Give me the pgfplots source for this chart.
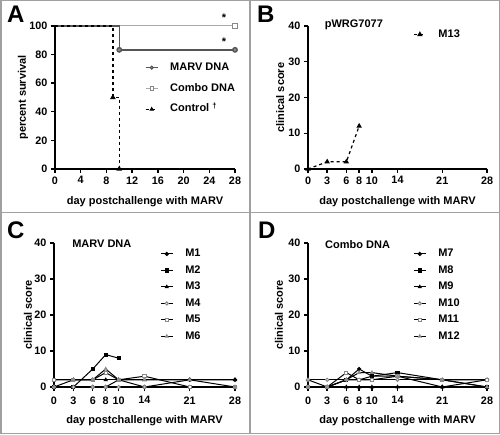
\documentclass[border=0pt]{standalone}
\usepackage{pgfplots}
\pgfplotsset{compat=1.18}
\usepackage{fontspec}
\setmainfont{Liberation Sans}
\newcommand{\lf}{\fontsize{11}{13}\selectfont\bfseries}
\newcommand{\tf}{\fontsize{10.8}{12}\selectfont\bfseries}
\definecolor{dg}{HTML}{555555}
\definecolor{lg}{HTML}{AAAAAA}
\definecolor{mg}{HTML}{888888}
\definecolor{fr}{HTML}{A0A0A0}
\pgfplotsset{
  prism/.style={
    scale only axis, anchor=south west,
    axis x line=bottom, axis y line=left,
    axis line style={-, line width=1.4pt, black},
    tick align=outside, major tick length=4pt,
    tick style={line width=1.4pt, black},
    every tick label/.append style={font=\tf},
    /pgf/number format/assume math mode=true,
    label style={font=\lf},
    xmin=0, xmax=28, ymin=0,
    clip=false,
    legend cell align=left,
    legend image code/.code={\draw[mark repeat=2,mark phase=2,##1] plot coordinates {(0pt,0pt) (6pt,0pt) (12pt,0pt)};},
    legend style={draw=none, fill=none, font=\lf, inner sep=0pt, column sep=12pt,
      nodes={inner sep=0pt, text height=8pt, text depth=2.5pt}},
  },
  score/.style={prism, ymax=40, xtick={0,3,6,8,10,14,21,28}, ytick={0,10,20,30,40},
    ylabel={clinical score}, xlabel={day postchallenge with MARV},
    xlabel style={at={(axis description cs:0.5,-0.236)}, anchor=center},
    legend style={row sep=6pt},
  },
  bk/.style={black, line width=1pt, mark size=1.6pt},
  gy/.style={black, line width=1pt, mark size=1.6pt, mark options={draw=mg, fill=white}},
}
\begin{document}
\begin{tikzpicture}
\path[use as bounding box] (0pt,0pt) rectangle (500pt,434pt);
\draw[fr, line width=1.5pt] (0.75pt,0.75pt) rectangle (499.25pt,433.25pt);
\draw[fr, line width=1.5pt] (250pt,0pt) -- (250pt,434pt);
\draw[fr, line width=1.5pt] (0pt,221.3pt) -- (500pt,221.3pt);
\node[anchor=base west, inner sep=0pt, font=\fontsize{24}{24}\selectfont\bfseries] at (7pt,411pt) {A};
\node[anchor=base west, inner sep=0pt, font=\fontsize{24}{24}\selectfont\bfseries] at (257pt,411pt) {B};
\node[anchor=base west, inner sep=0pt, font=\fontsize{24}{24}\selectfont\bfseries] at (7pt,195pt) {C};
\node[anchor=base west, inner sep=0pt, font=\fontsize{24}{24}\selectfont\bfseries] at (258pt,195pt) {D};

% Panel A
\begin{axis}[prism, at={(55pt,265pt)}, width=180pt, height=143pt, ymax=100,
  xtick={0,4,...,28}, ytick={0,20,...,100},
  ylabel={percent survival}, xlabel={day postchallenge with MARV},
  ylabel style={at={(axis description cs:-0.178,0.5)}, anchor=center},
  xlabel style={at={(axis description cs:0.5,-0.231)}, anchor=center},
  legend style={at={(axis description cs:0.5,0.747)}, anchor=north west, row sep=10.3pt}]
\addplot[lg, line width=1pt, mark=square*, mark size=2.2pt, mark options={draw=mg, fill=white}, mark indices={2}, forget plot]
  coordinates {(0,100) (28,100)};
\addplot[dg, line width=1.4pt, mark=*, mark size=2.2pt, mark options={draw=dg, fill=mg}, mark indices={3,4}, forget plot]
  coordinates {(0,100) (10,100) (10,83.33) (28,83.33)};
\addplot[black, dashed, line width=1.4pt, mark=triangle*, mark size=2pt, mark options={solid}, mark indices={3,5}, forget plot]
  coordinates {(0,100) (9,100) (9,50) (10,50) (10,0)};
\addlegendimage{dg, line width=1pt, mark=*, mark size=1.6pt, mark options={draw=dg, fill=mg}}
\addlegendentry{MARV DNA}
\addlegendimage{lg, line width=1pt, mark=square*, mark size=1.6pt, mark options={draw=mg, fill=white}}
\addlegendentry{Combo DNA}
\addlegendimage{black, dashed, line width=1pt, mark=triangle*, mark size=1.6pt, mark options={solid}}
\addlegendentry{Control \textsuperscript{\textdagger}}
\node[font=\lf] at (axis cs:26.3,106) {*};
\node[font=\lf] at (axis cs:26.3,89) {*};
\end{axis}

% Panel B
\begin{axis}[score, at={(308pt,265pt)}, width=179pt, height=143pt,
  ylabel style={at={(axis description cs:-0.156,0.5)}, anchor=center},
  xlabel style={at={(axis description cs:0.5,-0.229)}, anchor=center},
  legend style={at={(axis description cs:0.587,0.979)}, anchor=north west}]
\addplot[black, dashed, line width=1.2pt, mark=triangle*, mark size=2pt, mark options={solid}]
  coordinates {(0,0) (3,2) (6,2) (8,12)};
\addlegendentry{M13}
\node[font=\lf, anchor=west, inner sep=0pt] at (axis cs:2.6,40.2) {pWRG7077};
\end{axis}

% Panel C
\begin{axis}[score, at={(54pt,47pt)}, width=181pt, height=144pt,
  xticklabel style={yshift=-2pt},
  ylabel style={at={(axis description cs:-0.144,0.5)}, anchor=center},
  legend style={at={(axis description cs:0.586,0.962)}, anchor=north west}]
\addplot[bk, mark=*] coordinates {(0,0) (3,0) (6,0) (8,0) (10,2) (14,0) (21,2) (28,2)};
\addlegendentry{M1}
\addplot[bk, mark=square*] coordinates {(0,0) (3,0) (6,5) (8,9) (10,8)};
\addlegendentry{M2}
\addplot[bk, mark=triangle*] coordinates {(0,2) (3,2) (6,2) (8,2) (10,2) (14,2) (21,2) (28,2)};
\addlegendentry{M3}
\addplot[gy, mark=*] coordinates {(0,0) (3,0) (6,0) (8,0) (10,0) (14,0) (21,0) (28,0)};
\addlegendentry{M4}
\addplot[gy, mark=square*] coordinates {(0,2) (3,2) (6,2) (8,4) (10,2) (14,3) (21,0) (28,0)};
\addlegendentry{M5}
\addplot[gy, mark=triangle*] coordinates {(0,0) (3,2) (6,2) (8,5) (10,2) (14,2) (21,2) (28,0)};
\addlegendentry{M6}
\node[font=\lf, anchor=west, inner sep=0pt] at (axis cs:2.8,39.7) {MARV DNA};
\end{axis}

% Panel D
\begin{axis}[score, at={(308pt,47pt)}, width=179pt, height=144pt,
  xticklabel style={yshift=-2pt},
  ylabel style={at={(axis description cs:-0.162,0.5)}, anchor=center},
  legend style={at={(axis description cs:0.587,0.962)}, anchor=north west}]
\addplot[bk, mark=*] coordinates {(0,0) (3,0) (6,2) (8,5) (10,3) (14,3) (21,0) (28,2)};
\addlegendentry{M7}
\addplot[bk, mark=square*] coordinates {(0,0) (3,0) (6,2) (8,2) (10,3) (14,4) (21,2) (28,0)};
\addlegendentry{M8}
\addplot[bk, mark=triangle*] coordinates {(0,2) (3,0) (6,0) (8,0) (10,0) (14,0) (21,0) (28,0)};
\addlegendentry{M9}
\addplot[gy, mark=*] coordinates {(0,2) (3,2) (6,2) (8,2) (10,2) (14,2) (21,2) (28,2)};
\addlegendentry{M10}
\addplot[gy, mark=square*] coordinates {(0,0) (3,0) (6,4) (8,2) (10,2) (14,3) (21,2) (28,2)};
\addlegendentry{M11}
\addplot[gy, mark=triangle*] coordinates {(0,0) (3,0) (6,2) (8,4) (10,4) (14,3) (21,2) (28,0)};
\addlegendentry{M12}
\node[font=\lf, anchor=west, inner sep=0pt] at (axis cs:2.66,39.7) {Combo DNA};
\end{axis}
\end{tikzpicture}
\end{document}
